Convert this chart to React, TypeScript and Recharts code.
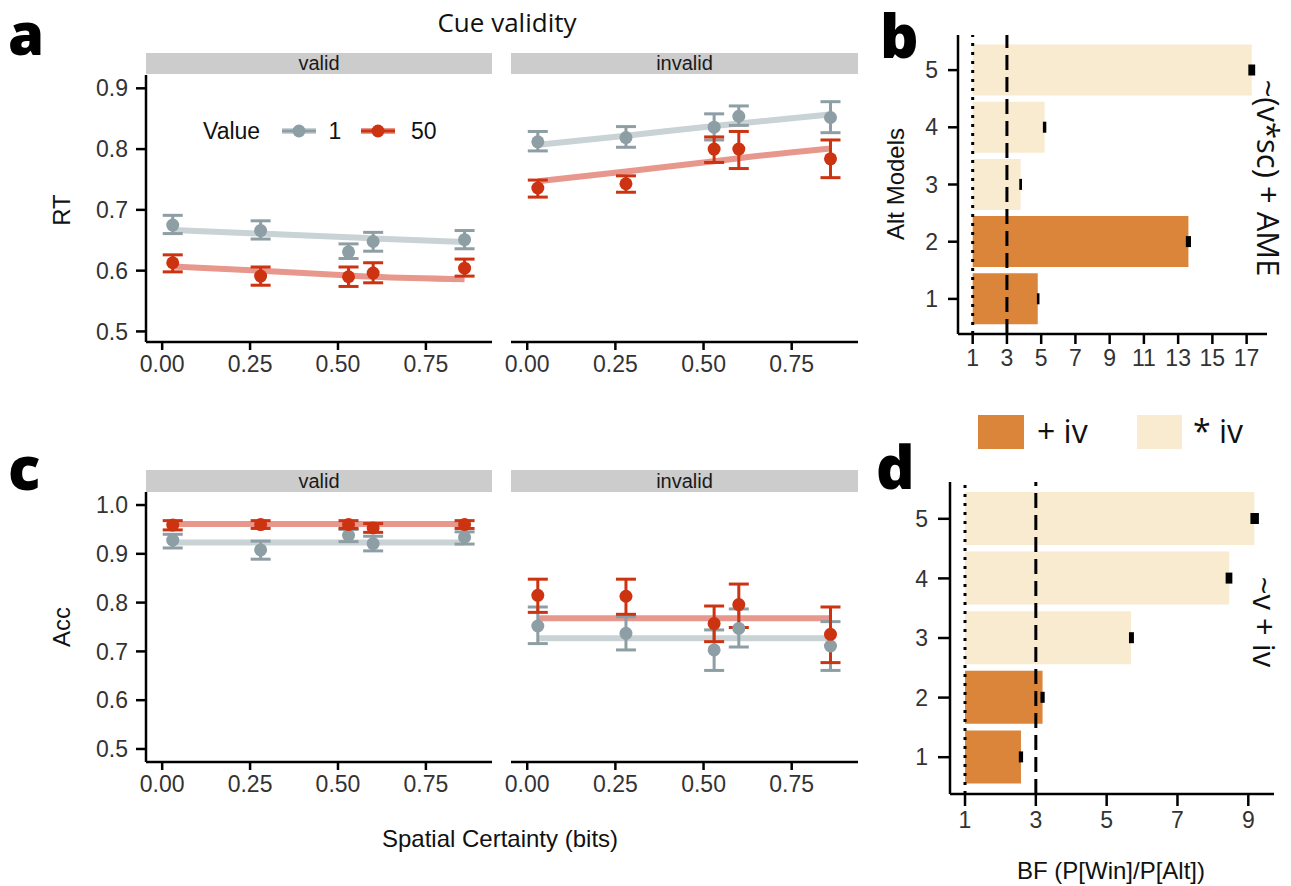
import React from "react";
import {
  ComposedChart,
  Line,
  Scatter,
  ErrorBar,
  XAxis,
  YAxis,
  Bar,
  Cell,
  ReferenceLine,
} from "recharts";

// spatial certainty (bits) of the five conditions
const certainty = [0.03, 0.28, 0.53, 0.6, 0.86];
const certaintyTicks = [0, 0.25, 0.5, 0.75];

// RT, valid cue
const rtValid1 = [0.675, 0.666, 0.631, 0.648, 0.651];
const rtValid1Lo = [0.661, 0.652, 0.62, 0.632, 0.636];
const rtValid1Hi = [0.691, 0.682, 0.644, 0.663, 0.666];
const rtValid50 = [0.613, 0.591, 0.59, 0.596, 0.604];
const rtValid50Lo = [0.598, 0.576, 0.574, 0.58, 0.591];
const rtValid50Hi = [0.626, 0.606, 0.606, 0.613, 0.619];
const rtValidFit1 = [0.667, 0.661, 0.655, 0.653, 0.647];
const rtValidFit50 = [0.607, 0.6, 0.592, 0.59, 0.586];

// RT, invalid cue
const rtInvalid1 = [0.812, 0.819, 0.836, 0.854, 0.852];
const rtInvalid1Lo = [0.797, 0.803, 0.815, 0.839, 0.827];
const rtInvalid1Hi = [0.829, 0.837, 0.858, 0.871, 0.878];
const rtInvalid50 = [0.736, 0.743, 0.8, 0.8, 0.784];
const rtInvalid50Lo = [0.721, 0.729, 0.778, 0.768, 0.753];
const rtInvalid50Hi = [0.749, 0.756, 0.82, 0.829, 0.815];
const rtInvalidFit1 = [0.807, 0.822, 0.838, 0.842, 0.857];
const rtInvalidFit50 = [0.747, 0.763, 0.78, 0.785, 0.801];

// accuracy, valid cue
const accValid1 = [0.928, 0.908, 0.938, 0.921, 0.934];
const accValid1Lo = [0.912, 0.889, 0.925, 0.906, 0.92];
const accValid1Hi = [0.94, 0.926, 0.95, 0.936, 0.945];
const accValid50 = [0.959, 0.96, 0.96, 0.953, 0.96];
const accValid50Lo = [0.949, 0.952, 0.952, 0.944, 0.952];
const accValid50Hi = [0.968, 0.968, 0.968, 0.962, 0.968];
const accValidFit1 = [0.923, 0.923, 0.923, 0.923, 0.923];
const accValidFit50 = [0.961, 0.961, 0.961, 0.961, 0.961];

// accuracy, invalid cue
const accInvalid1 = [0.752, 0.737, 0.703, 0.747, 0.711];
const accInvalid1Lo = [0.716, 0.703, 0.661, 0.709, 0.661];
const accInvalid1Hi = [0.791, 0.771, 0.744, 0.787, 0.761];
const accInvalid50 = [0.815, 0.813, 0.757, 0.796, 0.735];
const accInvalid50Lo = [0.78, 0.776, 0.72, 0.749, 0.677];
const accInvalid50Hi = [0.848, 0.848, 0.793, 0.838, 0.791];
const accInvalidFit1 = [0.727, 0.727, 0.727, 0.727, 0.727];
const accInvalidFit50 = [0.768, 0.768, 0.768, 0.768, 0.768];

// Bayes factors of the alternative models
const altModels = ["5", "4", "3", "2", "1"];
const altKind = ["*", "*", "*", "+", "+"];
const bfRt = [17.3, 5.2, 3.8, 13.6, 4.8];
const bfRtLo = [17.1, 5.1, 3.72, 13.45, 4.75];
const bfRtHi = [17.5, 5.3, 3.88, 13.75, 4.9];
const bfAcc = [9.17, 8.46, 5.69, 3.19, 2.58];
const bfAccLo = [9.06, 8.36, 5.63, 3.13, 2.52];
const bfAccHi = [9.3, 8.55, 5.77, 3.25, 2.64];

const GREY = "#8e9ea5";
const GREY_FIT = "#c9d2d5";
const RED = "#cc3311";
const RED_FIT = "#e8978c";
const ORANGE = "#da853a";
const BEIGE = "#f8ebd0";

const SANS = "'Liberation Sans', Arial, sans-serif";
const OPEN = "'Open Sans', 'Noto Sans', sans-serif";
const tickStyle = { fontSize: 23, fill: "#333", fontFamily: SANS };
const axisStroke = { stroke: "#000", strokeWidth: 2.5 };

const points = (mean: number[], lo: number[], hi: number[]) =>
  certainty.map((x, i) => ({ x, y: mean[i], err: [mean[i] - lo[i], hi[i] - mean[i]] }));
const fitLine = (vals: number[]) => certainty.map((x, i) => ({ x, y: vals[i] }));

const bfRows = (vals: number[], lo: number[], hi: number[]) =>
  altModels.map((m, i) => ({ m, kind: altKind[i], bar: [1, vals[i]], err: [lo[i], hi[i]] }));

const dot = (color: string) => (p: any) => <circle cx={p.cx} cy={p.cy} r={6.5} fill={color} />;

function Facet({ left, top, width, height, padLeft, yDomain, yTicks, showY, g, r, gFit, rFit }: any) {
  return (
    <div style={{ position: "absolute", left, top }}>
      <ComposedChart width={width} height={height} margin={{ top: 0, right: 0, bottom: 0, left: padLeft }}>
        <XAxis
          dataKey="x"
          type="number"
          domain={[-0.046, 0.938]}
          ticks={certaintyTicks}
          tickFormatter={(v: number) => v.toFixed(2)}
          allowDataOverflow
          interval={0}
          height={40}
          tick={tickStyle}
          tickSize={8}
          tickMargin={6}
          axisLine={axisStroke}
          tickLine={axisStroke}
        />
        <YAxis
          dataKey="y"
          type="number"
          domain={yDomain}
          ticks={yTicks}
          tickFormatter={(v: number) => v.toFixed(1)}
          allowDataOverflow
          interval={0}
          hide={!showY}
          width={86}
          tick={tickStyle}
          tickSize={10}
          tickMargin={8}
          axisLine={axisStroke}
          tickLine={axisStroke}
        />
        <Line data={gFit} dataKey="y" type="monotone" stroke={GREY_FIT} strokeWidth={6} dot={false} isAnimationActive={false} />
        <Line data={rFit} dataKey="y" type="monotone" stroke={RED_FIT} strokeWidth={6} dot={false} isAnimationActive={false} />
        <Scatter data={g} shape={dot(GREY)} isAnimationActive={false}>
          <ErrorBar dataKey="err" direction="y" width={10} stroke={GREY} strokeWidth={3} />
        </Scatter>
        <Scatter data={r} shape={dot(RED)} isAnimationActive={false}>
          <ErrorBar dataKey="err" direction="y" width={10} stroke={RED} strokeWidth={3} />
        </Scatter>
      </ComposedChart>
    </div>
  );
}

function BfChart({ left, top, width, height, yWidth, pad, barSize, domain, ticks, rows, tickLen }: any) {
  return (
    <div style={{ position: "absolute", left, top }}>
      <ComposedChart layout="vertical" width={width} height={height} data={rows} margin={{ top: 0, right: 0, bottom: 0, left: 0 }}>
        <XAxis
          type="number"
          domain={domain}
          ticks={ticks}
          allowDataOverflow
          interval={0}
          height={40}
          tick={tickStyle}
          tickSize={tickLen}
          tickMargin={6}
          axisLine={axisStroke}
          tickLine={axisStroke}
        />
        <YAxis
          type="category"
          dataKey="m"
          width={yWidth}
          padding={{ top: pad, bottom: pad }}
          tick={tickStyle}
          tickSize={tickLen}
          tickMargin={10}
          axisLine={axisStroke}
          tickLine={axisStroke}
        />
        <YAxis type="category" dataKey="m" yAxisId="e" hide padding={{ top: pad, bottom: pad }} />
        <Bar dataKey="bar" barSize={barSize} isAnimationActive={false}>
          {rows.map((d: any) => (
            <Cell key={d.m} fill={d.kind === "+" ? ORANGE : BEIGE} />
          ))}
        </Bar>
        <Bar dataKey="err" yAxisId="e" barSize={11} fill="#000" isAnimationActive={false} />
        <ReferenceLine x={1} stroke="#000" strokeWidth={3} strokeDasharray="3 6" />
        <ReferenceLine x={3} stroke="#000" strokeWidth={3} strokeDasharray="15 7" />
      </ComposedChart>
    </div>
  );
}

// panel letters as html so their boxes stay inside the page
const PanelLetter = ({ x, baseline, size, children }: any) => (
  <div
    style={{
      position: "absolute",
      left: x,
      top: baseline - 0.888 * size,
      fontFamily: OPEN,
      fontWeight: 800,
      fontSize: size,
      lineHeight: 1,
      color: "#000",
    }}
  >
    {children}
  </div>
);

export default function App() {
  const rtTicks = [0.5, 0.6, 0.7, 0.8, 0.9];
  const accTicks = [0.5, 0.6, 0.7, 0.8, 0.9, 1.0];
  const rtDomain = [0.4826, 0.9219];
  const accDomain = [0.4733, 1.0267];
  return (
    <div style={{ position: "absolute", left: 0, top: 0, width: 1291, height: 886, background: "#fff" }}>
      <Facet left={60} top={75} width={432} height={307} padLeft={0} yDomain={rtDomain} yTicks={rtTicks} showY
        g={points(rtValid1, rtValid1Lo, rtValid1Hi)} r={points(rtValid50, rtValid50Lo, rtValid50Hi)}
        gFit={fitLine(rtValidFit1)} rFit={fitLine(rtValidFit50)} />
      <Facet left={481} top={75} width={377} height={307} padLeft={30} yDomain={rtDomain} yTicks={rtTicks} showY={false}
        g={points(rtInvalid1, rtInvalid1Lo, rtInvalid1Hi)} r={points(rtInvalid50, rtInvalid50Lo, rtInvalid50Hi)}
        gFit={fitLine(rtInvalidFit1)} rFit={fitLine(rtInvalidFit50)} />
      <Facet left={60} top={492} width={432} height={310} padLeft={0} yDomain={accDomain} yTicks={accTicks} showY
        g={points(accValid1, accValid1Lo, accValid1Hi)} r={points(accValid50, accValid50Lo, accValid50Hi)}
        gFit={fitLine(accValidFit1)} rFit={fitLine(accValidFit50)} />
      <Facet left={481} top={492} width={377} height={310} padLeft={30} yDomain={accDomain} yTicks={accTicks} showY={false}
        g={points(accInvalid1, accInvalid1Lo, accInvalid1Hi)} r={points(accInvalid50, accInvalid50Lo, accInvalid50Hi)}
        gFit={fitLine(accInvalidFit1)} rFit={fitLine(accInvalidFit50)} />

      <BfChart left={880} top={35} width={387} height={339} yWidth={78} pad={6.5} barSize={51}
        domain={[0.142, 18.19]} ticks={[1, 3, 5, 7, 9, 11, 13, 15, 17]} rows={bfRows(bfRt, bfRtLo, bfRtHi)} tickLen={10} />
      <BfChart left={870} top={482} width={404} height={352} yWidth={80} pad={7} barSize={53}
        domain={[0.576, 9.726]} ticks={[1, 3, 5, 7, 9]} rows={bfRows(bfAcc, bfAccLo, bfAccHi)} tickLen={12} />

      <svg width={1291} height={886} style={{ position: "absolute", left: 0, top: 0, pointerEvents: "none" }}>
        <text x={507} y={32} textAnchor="middle" fontFamily={OPEN} fontSize={26} fill="#111">Cue validity</text>

        <rect x={146} y={53} width={346} height={21} fill="#cccccc" />
        <rect x={511} y={53} width={347} height={21} fill="#cccccc" />
        <rect x={146} y={470} width={346} height={22} fill="#cccccc" />
        <rect x={511} y={470} width={347} height={22} fill="#cccccc" />
        <text x={319} y={70} textAnchor="middle" fontFamily={SANS} fontSize={20} fill="#1a1a1a">valid</text>
        <text x={684.5} y={70} textAnchor="middle" fontFamily={SANS} fontSize={20} fill="#1a1a1a">invalid</text>
        <text x={319} y={488} textAnchor="middle" fontFamily={SANS} fontSize={20} fill="#1a1a1a">valid</text>
        <text x={684.5} y={488} textAnchor="middle" fontFamily={SANS} fontSize={20} fill="#1a1a1a">invalid</text>

        <text transform="translate(70,210) rotate(-90)" textAnchor="middle" fontFamily={SANS} fontSize={24} fill="#111">RT</text>
        <text transform="translate(70,627) rotate(-90)" textAnchor="middle" fontFamily={SANS} fontSize={24} fill="#111">Acc</text>
        <text transform="translate(904,184) rotate(-90)" textAnchor="middle" fontFamily={SANS} fontSize={24} fill="#111">Alt Models</text>
        <text x={500} y={847} textAnchor="middle" fontFamily={SANS} fontSize={24} fill="#111">Spatial Certainty (bits)</text>
        <text x={1111} y={879} textAnchor="middle" fontFamily={SANS} fontSize={24} fill="#111">BF (P[Win]/P[Alt])</text>

        <text transform="translate(1257,178) rotate(90)" textAnchor="middle" fontFamily={OPEN} fontSize={31} fill="#111">~(v*sc) + AME</text>
        <text transform="translate(1253,622) rotate(90)" textAnchor="middle" fontFamily={OPEN} fontSize={31} fill="#111">~v + iv</text>

        <text x={203} y={139} fontFamily={SANS} fontSize={23} fill="#111">Value</text>
        <line x1={282} y1={131} x2={316} y2={131} stroke={GREY_FIT} strokeWidth={6} />
        <line x1={282} y1={131} x2={316} y2={131} stroke={GREY} strokeWidth={3} />
        <circle cx={299} cy={131} r={6.5} fill={GREY} />
        <text x={335} y={139} textAnchor="middle" fontFamily={SANS} fontSize={23} fill="#111">1</text>
        <line x1={361} y1={131} x2={395} y2={131} stroke={RED_FIT} strokeWidth={6} />
        <line x1={361} y1={131} x2={395} y2={131} stroke={RED} strokeWidth={3} />
        <circle cx={378} cy={131} r={6.5} fill={RED} />
        <text x={411} y={139} fontFamily={SANS} fontSize={23} fill="#111">50</text>

        <rect x={978} y={415} width={46} height={34} fill={ORANGE} />
        <text x={1037} y={443} fontFamily={OPEN} fontSize={32} fill="#111">+ iv</text>
        <rect x={1137} y={415} width={45} height={34} fill={BEIGE} />
        <text x={1193} y={443} fontFamily={OPEN} fontSize={32} fill="#111">* iv</text>
      </svg>

      <PanelLetter x={8} baseline={56} size={58}>a</PanelLetter>
      <PanelLetter x={880} baseline={58} size={60}>b</PanelLetter>
      <PanelLetter x={8} baseline={490} size={60}>c</PanelLetter>
      <PanelLetter x={876} baseline={489} size={60}>d</PanelLetter>
    </div>
  );
}
